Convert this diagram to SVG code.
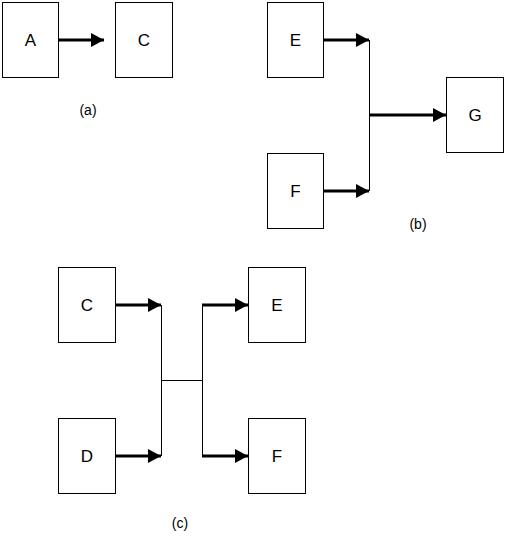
<svg xmlns="http://www.w3.org/2000/svg" width="515" height="539" viewBox="0 0 515 539">
<style>
.box{fill:#fff;stroke:#000;stroke-width:1}
.lbl{font-family:"Liberation Sans",Arial,sans-serif;font-size:17px;fill:#000;text-anchor:middle;dominant-baseline:central}
.cap{font-family:"Liberation Sans",Arial,sans-serif;font-size:14px;fill:#000;text-anchor:middle;dominant-baseline:central}
.thick{stroke:#000;stroke-width:3;fill:none}
.thin{stroke:#000;stroke-width:1;fill:none}
</style>
<defs>
<marker id="ah" viewBox="0 0 13 14" refX="13" refY="7" markerWidth="13" markerHeight="14" markerUnits="userSpaceOnUse" orient="auto">
<path d="M0,0 L13,7 L0,14 Z" fill="#000"/>
</marker>
</defs>
<rect width="515" height="539" fill="#fff"/>
<g id="connectors">
<line class="thick" x1="58" y1="40" x2="104" y2="40" marker-end="url(#ah)"/>
<line class="thick" x1="323" y1="40" x2="369" y2="40" marker-end="url(#ah)"/>
<line class="thick" x1="323" y1="191" x2="369" y2="191" marker-end="url(#ah)"/>
<line class="thin" x1="369.5" y1="40" x2="369.5" y2="191"/>
<line class="thick" x1="369" y1="115" x2="446" y2="115" marker-end="url(#ah)"/>
<line class="thick" x1="115" y1="305" x2="161" y2="305" marker-end="url(#ah)"/>
<line class="thick" x1="115" y1="456" x2="161" y2="456" marker-end="url(#ah)"/>
<line class="thin" x1="161.5" y1="305" x2="161.5" y2="456"/>
<line class="thin" x1="161" y1="380.5" x2="202" y2="380.5"/>
<line class="thin" x1="202.5" y1="305" x2="202.5" y2="456"/>
<line class="thick" x1="202" y1="305" x2="248" y2="305" marker-end="url(#ah)"/>
<line class="thick" x1="202" y1="456" x2="248" y2="456" marker-end="url(#ah)"/>
</g>
<g id="nodeA"><rect class="box" x="2.5" y="2.5" width="56" height="75"/><text class="lbl" x="30.5" y="40">A</text></g>
<g id="nodeC1"><rect class="box" x="115.5" y="2.5" width="57" height="75"/><text class="lbl" x="144" y="40">C</text></g>
<g id="capA"><text class="cap" x="88" y="110">(a)</text></g>
<g id="nodeE1"><rect class="box" x="267.5" y="2.5" width="56" height="75"/><text class="lbl" x="295.5" y="40">E</text></g>
<g id="nodeF1"><rect class="box" x="267.5" y="153.5" width="56" height="75"/><text class="lbl" x="295.5" y="191">F</text></g>
<g id="nodeG"><rect class="box" x="446.5" y="77.5" width="57" height="75"/><text class="lbl" x="475" y="115">G</text></g>
<g id="capB"><text class="cap" x="418" y="224">(b)</text></g>
<g id="nodeC2"><rect class="box" x="58.5" y="267.5" width="57" height="75"/><text class="lbl" x="87" y="305">C</text></g>
<g id="nodeD"><rect class="box" x="58.5" y="418.5" width="57" height="75"/><text class="lbl" x="87" y="456">D</text></g>
<g id="nodeE2"><rect class="box" x="248.5" y="267.5" width="57" height="75"/><text class="lbl" x="277" y="305">E</text></g>
<g id="nodeF2"><rect class="box" x="248.5" y="418.5" width="57" height="75"/><text class="lbl" x="277" y="456">F</text></g>
<g id="capC"><text class="cap" x="180" y="523">(c)</text></g>
</svg>
